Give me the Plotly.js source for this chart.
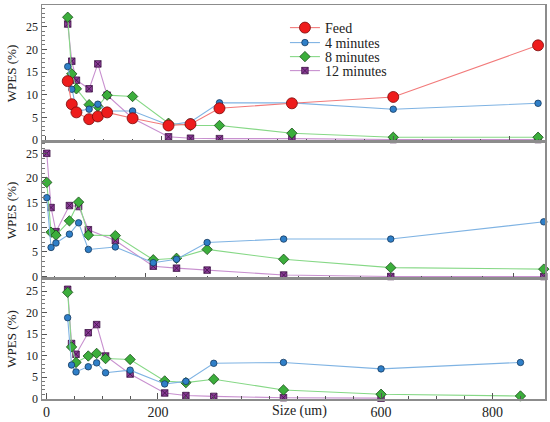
<!DOCTYPE html>
<html>
<head>
<meta charset="utf-8">
<script src="https://cdn.plot.ly/plotly-3.0.1.min.js"></script>
<style>html,body{margin:0;padding:0;background:#fff}#chart{width:550px;height:422px}</style>
</head>
<body>
<div id="chart"></div>
<script>
// Particle sizes (um)
const sizes = [38, 45, 53, 75, 90, 106, 150, 212, 250, 300, 425, 600, 850];
const seriesNames = ["Feed", "4 minutes", "8 minutes", "12 minutes"];
const xTickVals = [0, 200, 600, 800];
const xTickText = ["0", "200", "600", "800"];
const yTickVals = [0, 5, 10, 15, 20, 25];

// Top panel
const feedTop  = [13.0, 7.9, 6.1, 4.6, 5.2, 6.1, 4.8, 3.2, 3.5, 7.0, 8.1, 9.5, 20.9];
const min4Top  = [16.2, 11.2, 6.4, 6.8, 7.9, 6.4, 6.4, 3.3, 4.0, 8.2, 8.2, 6.8, 8.1];
const min8Top  = [27.1, 14.6, 11.3, 7.8, 7.4, 9.9, 9.6, 3.7, 3.2, 3.2, 1.5, 0.6, 0.6];
const min12Top = [25.6, 17.4, 13.2, 11.3, 16.8, 9.9, 4.8, 0.7, 0.4, 0.3, 0.3, 0.1, 0.1];

// Middle panel
const min4Mid  = [16.0, 5.9, 6.8, 8.6, 10.9, 5.5, 6.0, 2.8, 3.5, 6.9, 7.6, 7.6, 11.1];
const min8Mid  = [19.1, 9.0, 8.4, 11.3, 15.1, 8.4, 8.3, 3.4, 3.7, 5.5, 3.5, 1.8, 1.5];
const min12Mid = [25.0, 14.0, 9.1, 14.4, 14.2, 9.5, 7.3, 2.1, 1.7, 1.3, 0.3, 0.0, 0.0];

// Bottom panel
const min4Bot  = [18.8, 7.8, 6.2, 7.4, 8.3, 6.0, 6.6, 3.4, 4.0, 8.2, 8.4, 6.9, 8.4];
const min8Bot  = [24.7, 12.0, 8.4, 9.9, 10.5, 9.3, 9.1, 4.1, 3.7, 4.5, 2.0, 1.0, 0.6];
const min12Bot = [25.4, 12.8, 10.3, 15.3, 17.2, 9.9, 5.7, 1.3, 0.7, 0.5, 0.2, 0.1, null];

const styles = {
  "Feed":       {line: "#f27a7a", fill: "#ee1c1c", edge: "#7a0a0a", symbol: "circle",   size: 11, legend: "legend"},
  "4 minutes":  {line: "#7fb3e3", fill: "#2f7fc8", edge: "#163a5e", symbol: "circle",   size: 6.5, legend: "legend2"},
  "8 minutes":  {line: "#86d886", fill: "#3cae3c", edge: "#184d18", symbol: "diamond",  size: 8, legend: "legend3"},
  "12 minutes": {line: "#c890cf", fill: "#8a3a96", edge: "#3d1445", symbol: "square-x", size: 6.5, legend: "legend4"}
};

function tr(name, y, xa, ya, showLeg) {
  const s = styles[name];
  return {
    type: "scatter", mode: "lines+markers", name: name, x: sizes, y: y,
    xaxis: xa, yaxis: ya, showlegend: showLeg, legend: s.legend, cliponaxis: false,
    connectgaps: false,
    line: {color: s.line, width: 1.1},
    marker: {symbol: s.symbol, size: s.size, color: s.fill, line: {color: s.edge, width: 0.8}}
  };
}

const data = [
  tr("12 minutes", min12Top, "x", "y", true),
  tr("8 minutes", min8Top, "x", "y", true),
  tr("4 minutes", min4Top, "x", "y", true),
  tr("Feed", feedTop, "x", "y", true),
  tr("12 minutes", min12Mid, "x2", "y2", false),
  tr("8 minutes", min8Mid, "x2", "y2", false),
  tr("4 minutes", min4Mid, "x2", "y2", false),
  tr("12 minutes", min12Bot, "x3", "y3", false),
  tr("8 minutes", min8Bot, "x3", "y3", false),
  tr("4 minutes", min4Bot, "x3", "y3", false)
];

const fontFam = "'Liberation Serif', 'DejaVu Serif', serif";
function xax(range, anchor, labels) {
  return {
    range: range, anchor: anchor, showgrid: false, zeroline: false,
    showline: true, mirror: true, linecolor: "#8c8c8c", linewidth: 1.5,
    ticks: "inside", ticklen: 6, tickcolor: "#555", tickwidth: 1,
    tickvals: xTickVals, ticktext: xTickText, showticklabels: labels,
    minor: {ticks: "inside", ticklen: 3, dtick: 50, tick0: 0, tickcolor: "#555"},
    tickfont: {family: fontFam, size: 14, color: "#222"}
  };
}
function yax(range, domain, anchor) {
  return {
    range: range, domain: domain, anchor: anchor, showgrid: false, zeroline: false,
    showline: true, mirror: true, linecolor: "#8c8c8c", linewidth: 1.5,
    ticks: "inside", ticklen: 5, tickcolor: "#555", tickwidth: 1,
    tickvals: yTickVals,
    minor: {ticks: "inside", ticklen: 3, dtick: 1, tick0: 0, tickcolor: "#777"},
    tickfont: {family: fontFam, size: 12, color: "#222"},
    title: {text: "WPES (%)", font: {family: fontFam, size: 13, color: "#222"}, standoff: 6}
  };
}
function leg(yPaper) {
  return {
    x: 0.483, y: yPaper, xanchor: "left", yanchor: "middle",
    bgcolor: "rgba(255,255,255,0)", borderwidth: 0,
    font: {family: fontFam, size: 14, color: "#222"},
    itemwidth: 30
  };
}

const layout = {
  width: 550, height: 422,
  margin: {l: 42, r: 5, t: 5, b: 23},
  paper_bgcolor: "#fff", plot_bgcolor: "#fff",
  font: {family: fontFam, size: 14, color: "#222"},
  xaxis: xax([-6.4, 862], "y", false),
  yaxis: yax([-0.44, 29.8], [0.6523, 1], "x"),
  xaxis2: xax([30.2, 852], "y2", false),
  yaxis2: yax([-0.5, 27.3], [0.3046, 0.6523], "x2"),
  xaxis3: xax([-8, 894], "y3", true),
  yaxis3: yax([-0.1, 27.8], [0, 0.3046], "x3"),
  legend: leg(0.9416),
  legend2: leg(0.9036),
  legend3: leg(0.868),
  legend4: leg(0.8325),
  annotations: [{
    text: "Size (um)", xref: "x3", yref: "paper", x: 400, y: 0,
    xanchor: "left", yanchor: "top", yshift: -2, showarrow: false,
    font: {family: fontFam, size: 14, color: "#222"}
  }]
};

Plotly.newPlot("chart", data, layout, {displayModeBar: false, staticPlot: true});
</script>
</body>
</html>
